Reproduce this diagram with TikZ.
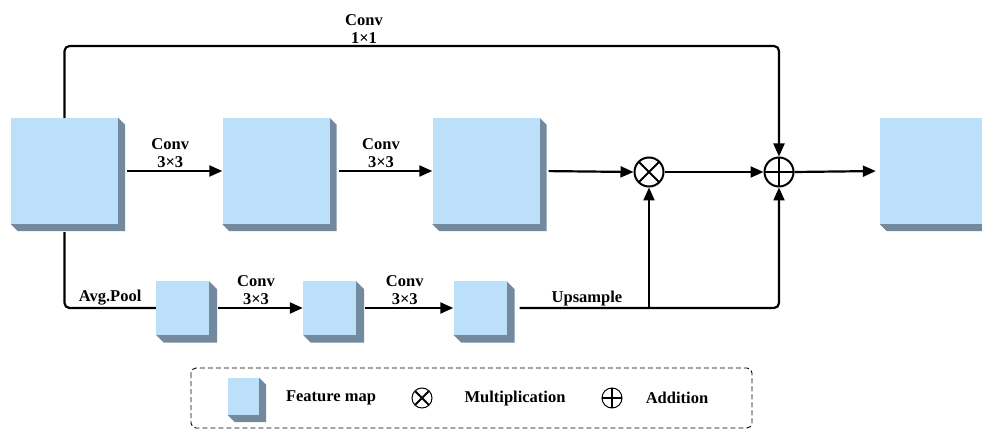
\documentclass[tikz,border=0pt]{standalone}
\usepackage{fontspec}
\setmainfont{Liberation Serif}
\usetikzlibrary{arrows.meta,backgrounds}

\definecolor{mapfront}{HTML}{BDE0FA}
\definecolor{mapside}{HTML}{738A9E}

\tikzset{
    fmap/.style={fill=mapfront, inner sep=0pt},
    bigmap/.style={fmap, minimum width=107pt, minimum height=106pt},
    smallmap/.style={fmap, minimum size=53pt},
    conn/.style={line width=2.2pt, rounded corners=5pt, -{Triangle[length=13pt,width=11pt]}},
    op/.style={circle, draw, line width=2pt, minimum size=29pt, inner sep=0pt},
    mult/.style={op, path picture={
        \draw[line width=2pt] (path picture bounding box.north west) -- (path picture bounding box.south east)
            (path picture bounding box.north east) -- (path picture bounding box.south west);}},
    plus/.style={op, path picture={
        \draw[line width=2pt] (path picture bounding box.north) -- (path picture bounding box.south)
            (path picture bounding box.west) -- (path picture bounding box.east);}},
    lbl/.style={font=\bfseries\fontsize{16.5}{18}\selectfont, align=center, inner sep=2pt},
}

\begin{document}
\begin{tikzpicture}[x=1pt, y=-1pt]
    \useasboundingbox (0,0) rectangle (982,430);

    % feature maps
    \node[bigmap] (in) at (64.5,171) {};
    \node[bigmap] (c1) at (276,171) {};
    \node[bigmap] (c2) at (486,171) {};
    \node[bigmap] (out) at (933.5,171) {};
    \node[smallmap] (p1) at (182.5,308) {};
    \node[smallmap] (p2) at (329.5,308) {};
    \node[smallmap] (p3) at (480,308) {};

    % operators
    \node[mult] (mul) at (649,172) {};
    \node[plus] (add) at (779,172) {};

    % main branch
    \draw[conn, shorten <=9pt] (in.east) -- (c1.west) node[lbl, midway, above] {Conv\\3×3};
    \draw[conn, shorten <=9pt] (c1.east) -- (c2.west) node[lbl, midway, above] {Conv\\3×3};
    \draw[conn, shorten <=9pt] (c2.east) -- (mul.west);
    \draw[conn] (mul.east) -- (add.west);
    \draw[conn, shorten >=4pt] (add.east) -- (out.west);

    % shortcut
    \draw[conn] (in.north) -- (in.north |- 0,46) -| (add.north);
    \node[lbl, above] (sc) at (364,46) {Conv\\1×1};

    % pooled branch
    \draw[conn, -, shorten <=8pt] (in.south) |- (p1.west) node[lbl, pos=0.75, above] {Avg.Pool};
    \draw[conn, shorten <=9pt] (p1.east) -- (p2.west) node[lbl, midway, above] {Conv\\3×3};
    \draw[conn, shorten <=9pt] (p2.east) -- (p3.west) node[lbl, midway, above] {Conv\\3×3};
    \draw[conn, shorten <=13pt] (p3.east) -| (add.south);
    \coordinate (up) at (mul.south |- p3.east);
    \draw[conn] (up) -- (mul.south);
    \node[lbl, above] (ups) at (587,308) {Upsample};

    % legend
    \draw[line width=0.9pt, dash pattern=on 5pt off 3pt, rounded corners=5pt] (191,368) rectangle (752,428);
    \node[fmap, minimum width=31pt, minimum height=37pt] (lgmap) at (243.5,396.5) {};
    \node[lbl] (lgmaptxt) at (331,398) {Feature map};
    \node[op, mult, line width=1pt, minimum size=20pt] (lgmul) at (422,398) {};
    \node[lbl] (lgmultxt) at (515,399) {Multiplication};
    \node[op, plus, line width=1pt, minimum size=20pt] (lgadd) at (612,398) {};
    \node[lbl] (lgaddtxt) at (677,398) {Addition};

    % extruded sides of the maps
    \begin{scope}[on background layer]
        \foreach \n/\d in {in/7, c1/7, c2/7, out/7, p1/8, p2/8, p3/8, lgmap/7}
            \fill[mapside] (\n.south west) -- ++(\d,\d) -| ([shift={(\d,\d)}]\n.north east)
                -- (\n.north east) -- (\n.south east) -- cycle;
    \end{scope}
\end{tikzpicture}
\end{document}
